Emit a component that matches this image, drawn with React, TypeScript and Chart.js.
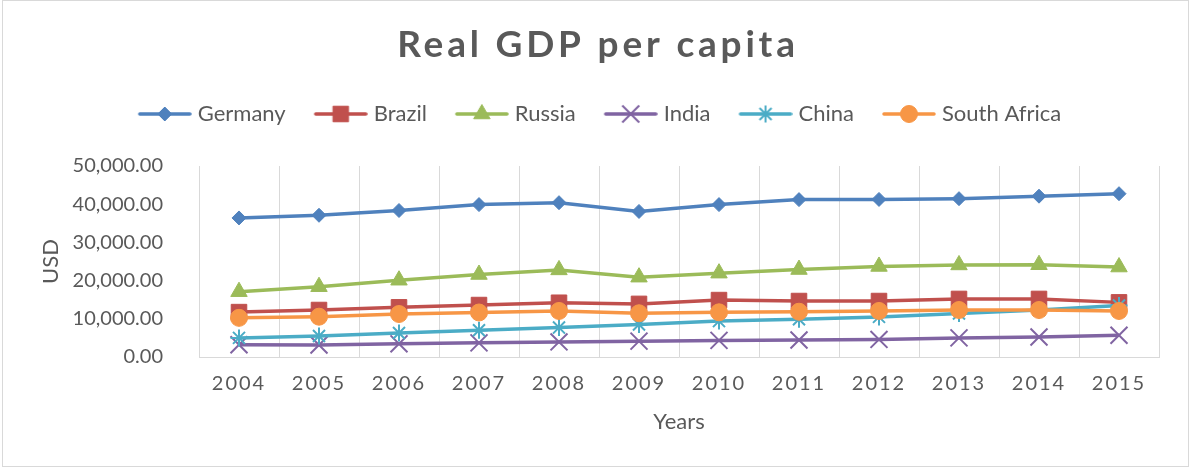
import React, { useEffect, useRef } from 'react';
import { Chart, registerables, CategoryScale } from 'chart.js';

// ---------- data ----------
const YEARS = ['2004', '2005', '2006', '2007', '2008', '2009', '2010', '2011', '2012', '2013', '2014', '2015'];
const SERIES_NAMES = ['Germany', 'Brazil', 'Russia', 'India', 'China', 'South Africa'];
const GERMANY = [36400, 37100, 38350, 39900, 40400, 38100, 39900, 41200, 41250, 41450, 42100, 42750];
const BRAZIL = [11750, 12300, 13000, 13600, 14200, 13900, 14900, 14650, 14650, 15200, 15200, 14300];
const RUSSIA = [17100, 18400, 20100, 21600, 22800, 20900, 21950, 22900, 23700, 24100, 24150, 23550];
const INDIA = [3200, 3150, 3450, 3700, 3950, 4150, 4350, 4450, 4600, 5000, 5250, 5700];
const CHINA = [5000, 5500, 6300, 7000, 7700, 8500, 9400, 9900, 10500, 11400, 12300, 13500];
const SOUTH_AFRICA = [10250, 10550, 11250, 11650, 12050, 11450, 11700, 11850, 12050, 12300, 12300, 12050];
const SERIES_VALUES = [GERMANY, BRAZIL, RUSSIA, INDIA, CHINA, SOUTH_AFRICA];
const Y_MIN = 0;
const Y_MAX = 50000;
const Y_STEP = 10000;

// ---------- styles ----------
const COLORS = ['#4F81BD', '#C0504D', '#9BBB59', '#8064A2', '#4BACC6', '#F79646'];
const MARKERS = [
  { style: 'rectRot', radius: 7, border: 1 },
  { style: 'rect', radius: 11, border: 1 },
  { style: 'triangle', radius: 9.5, border: 1 },
  { style: 'crossRot', radius: 12, border: 2 },
  { style: 'star', radius: 8.5, border: 2 },
  { style: 'circle', radius: 8.5, border: 1 },
];
const TEXT = '#595959';
const GRID = '#D9D9D9';
const FONT = 'Lato';
const LINE_W = 3.5;
const LEGEND_EXTRA = 31;
const ICON_OFFSET = 8;

Chart.register(...registerables);

class SpacedCategoryScale extends CategoryScale {
  static id = 'spacedCategory';
  drawLabels(chartArea: any) {
    const ctx: any = (this as any).ctx;
    const prev = ctx.letterSpacing;
    ctx.letterSpacing = '2px';
    super.drawLabels(chartArea);
    ctx.letterSpacing = prev || '0px';
  }
}
Chart.register(SpacedCategoryScale as any);

function drawMarker(ctx: CanvasRenderingContext2D, style: string, x: number, y: number, r: number) {
  ctx.beginPath();
  const d = r * Math.SQRT1_2;
  switch (style) {
    case 'rectRot':
      ctx.moveTo(x - r, y); ctx.lineTo(x, y - r); ctx.lineTo(x + r, y); ctx.lineTo(x, y + r); ctx.closePath();
      ctx.fill(); ctx.stroke(); break;
    case 'rect':
      ctx.rect(x - d, y - d, 2 * d, 2 * d); ctx.fill(); ctx.stroke(); break;
    case 'triangle':
      ctx.moveTo(x, y - r); ctx.lineTo(x + 0.866 * r, y + 0.5 * r); ctx.lineTo(x - 0.866 * r, y + 0.5 * r); ctx.closePath();
      ctx.fill(); ctx.stroke(); break;
    case 'crossRot':
      ctx.moveTo(x - d, y - d); ctx.lineTo(x + d, y + d); ctx.moveTo(x + d, y - d); ctx.lineTo(x - d, y + d); ctx.stroke(); break;
    case 'star':
      ctx.moveTo(x - d, y - d); ctx.lineTo(x + d, y + d); ctx.moveTo(x + d, y - d); ctx.lineTo(x - d, y + d);
      ctx.moveTo(x - r, y); ctx.lineTo(x + r, y); ctx.moveTo(x, y - r); ctx.lineTo(x, y + r); ctx.stroke(); break;
    default:
      ctx.arc(x, y, r, 0, Math.PI * 2); ctx.fill(); ctx.stroke();
  }
}

function makeLegendIcon(i: number): HTMLCanvasElement {
  const c = document.createElement('canvas');
  c.width = 54 + ICON_OFFSET; c.height = 26;
  const ctx = c.getContext('2d')!;
  ctx.strokeStyle = COLORS[i];
  ctx.fillStyle = COLORS[i];
  ctx.lineCap = 'round';
  ctx.lineWidth = LINE_W;
  ctx.beginPath(); ctx.moveTo(ICON_OFFSET + 2, 13); ctx.lineTo(ICON_OFFSET + 52, 13); ctx.stroke();
  ctx.lineCap = 'butt';
  ctx.lineWidth = MARKERS[i].border;
  drawMarker(ctx, MARKERS[i].style, ICON_OFFSET + 27, 13, MARKERS[i].radius);
  return c;
}

const layoutTweaks = {
  id: 'layoutTweaks',
  beforeLayout(chart: any) {
    const lg = chart.legend;
    if (lg && !lg.__patched) {
      const fit = lg.fit;
      lg.fit = function () { fit.call(this); if (this.options.display) this.height += LEGEND_EXTRA; };
      lg.__patched = true;
    }
  },
  beforeDraw(chart: any) {
    const tb = chart.titleBlock;
    if (tb && !tb.__patched) {
      const draw = tb.draw;
      tb.draw = function (...args: any[]) {
        const ctx: any = this.ctx;
        const prev = ctx.letterSpacing;
        ctx.letterSpacing = '3.8px';
        draw.apply(this, args);
        ctx.letterSpacing = prev || '0px';
      };
      tb.__patched = true;
    }
  },
};

export default function App() {
  const ref = useRef<HTMLCanvasElement>(null);
  useEffect(() => {
    const canvas = ref.current!;
    const icons = SERIES_NAMES.map((_, i) => makeLegendIcon(i));
    const datasets = SERIES_NAMES.map((name, i) => ({
      label: name,
      data: SERIES_VALUES[i],
      borderColor: COLORS[i],
      backgroundColor: COLORS[i],
      borderWidth: LINE_W,
      tension: 0,
      pointStyle: MARKERS[i].style,
      pointRadius: MARKERS[i].radius,
      pointHoverRadius: MARKERS[i].radius,
      pointBorderWidth: MARKERS[i].border,
      pointBackgroundColor: COLORS[i],
      pointBorderColor: COLORS[i],
      order: SERIES_NAMES.length - i,
    }));
    const chart = new Chart(canvas, {
      type: 'line',
      data: { labels: YEARS, datasets },
      plugins: [layoutTweaks],
      options: {
        responsive: false,
        animation: false,
        devicePixelRatio: 1,
        layout: { padding: { top: 0, left: 37, right: 30, bottom: 20 } },
        plugins: {
          title: {
            display: true,
            text: 'Real GDP per capita',
            color: TEXT,
            font: { family: FONT, size: 37, weight: 'bold' },
            padding: { top: 23, bottom: 10.6 },
          },
          legend: {
            display: true,
            position: 'top',
            labels: {
              usePointStyle: true,
              pointStyleWidth: 52,
              padding: 25,
              color: TEXT,
              font: { family: FONT, size: 22 },
              generateLabels: (c: any) =>
                c.data.datasets.map((ds: any, i: number) => ({
                  text: ds.label,
                  fillStyle: ds.borderColor,
                  strokeStyle: ds.borderColor,
                  lineWidth: 0,
                  pointStyle: icons[i],
                  hidden: false,
                  datasetIndex: i,
                  fontColor: TEXT,
                })),
            },
          },
          tooltip: { enabled: false },
        },
        scales: {
          x: {
            type: 'spacedCategory',
            offset: true,
            grid: { display: true, color: GRID, lineWidth: 1, drawTicks: false, offset: true },
            border: { display: true, color: GRID, width: 1 },
            ticks: { color: TEXT, font: { family: FONT, size: 20 }, padding: 15, maxRotation: 0, autoSkip: false },
            title: { display: true, text: 'Years', color: TEXT, font: { family: FONT, size: 22 }, padding: { top: 0, bottom: 12.8 } },
            afterFit: (s: any) => { s.height = 91; },
          },
          y: {
            min: Y_MIN,
            max: Y_MAX,
            grid: { display: false },
            border: { display: false },
            ticks: {
              stepSize: Y_STEP,
              color: TEXT,
              font: { family: FONT, size: 20 },
              padding: 28,
              callback: (v: any) => Number(v).toLocaleString('en-US', { minimumFractionDigits: 2, maximumFractionDigits: 2 }),
            },
            title: { display: true, text: 'USD', color: TEXT, font: { family: FONT, size: 22 }, padding: { top: 0.8, bottom: 0 } },
            afterFit: (s: any) => { s.width = 162; },
          },
        },
      } as any,
    });
    return () => chart.destroy();
  }, []);

  return (
    <div style={{ position: 'fixed', left: 0, top: 0, width: 1189, height: 468, background: '#fff' }}>
      <canvas ref={ref} width={1189} height={468} style={{ position: 'absolute', left: 0, top: 0, width: 1189, height: 468 }} />
      <div
        style={{
          position: 'absolute', left: 2, top: 0, width: 1187, height: 467,
          border: '1px solid #D9D9D9', boxSizing: 'border-box', pointerEvents: 'none',
        }}
      />
    </div>
  );
}
